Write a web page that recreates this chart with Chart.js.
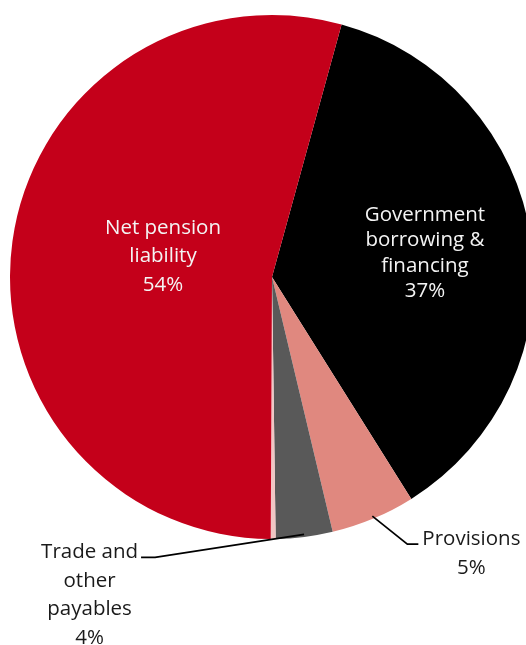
<!DOCTYPE html>
<html>
<head>
<meta charset="utf-8">
<script src="https://cdn.jsdelivr.net/npm/chart.js@4/dist/chart.umd.min.js"></script>
<style>
  html, body { margin: 0; padding: 0; background: #fff; }
  #wrap { width: 526px; height: 645px; overflow: hidden; }
  canvas { display: block; }
</style>
</head>
<body>
<div id="wrap"><canvas id="pie" width="560" height="645"></canvas></div>
<script>
// Liabilities breakdown, % of total (clockwise from the top)
var categories = ['Government borrowing & financing', 'Provisions', 'Trade and other payables', 'Other', 'Net pension liability'];
var labelLines = [['Government', 'borrowing &', 'financing'], ['Provisions'], ['Trade and', 'other', 'payables'], [], ['Net pension', 'liability']];
var shares = [36.8, 5.2, 3.5, 0.3, 54.2];
var colours = ['#000000', '#e0887f', '#595959', '#f2c6c4', '#c4001a'];

var FONT = '20.5px "Open Sans", "Noto Sans", sans-serif';

// how each slice gets its label: inside at a fraction of the radius, or outside with a leader
var labelPlace = [
  { kind: 'in', r: 0.59, gap: 25.5, shift: -1.5 },
  { kind: 'out', dx: 35, dy: 28, tail: 11, side: 'right', gap: 29 },
  { kind: 'out', dx: -149, dy: 23, tail: -14, side: 'left', gap: 28.5 },
  { kind: 'none' },
  { kind: 'in', r: 0.42, gap: 28.5, shift: -5.5 }
];

var sliceLabels = {
  id: 'sliceLabels',
  afterDatasetsDraw: function(chart) {
    var ctx = chart.ctx;
    var arcs = chart.getDatasetMeta(0).data;
    ctx.save();
    ctx.font = FONT;
    ctx.textBaseline = 'middle';
    ctx.textAlign = 'center';
    arcs.forEach(function(arc, i) {
      var p = labelPlace[i];
      if (p.kind === 'none') return;
      var lines = labelLines[i].concat([Math.round(shares[i]) + '%']);
      var mid = (arc.startAngle + arc.endAngle) / 2;
      if (p.kind === 'in') {
        var cx = arc.x + Math.cos(mid) * arc.outerRadius * p.r;
        var cy = arc.y + Math.sin(mid) * arc.outerRadius * p.r + p.shift;
        var top = cy - (lines.length - 1) * p.gap / 2;
        ctx.fillStyle = '#f4f4f4';
        lines.forEach(function(t, k) { ctx.fillText(t, cx, top + k * p.gap); });
        return;
      }
      // leader line from the slice edge
      var sx = arc.x + Math.cos(mid) * arc.outerRadius * 0.99;
      var sy = arc.y + Math.sin(mid) * arc.outerRadius * 0.99;
      var ex = sx + p.dx, ey = sy + p.dy;
      var tx = ex + p.tail;
      ctx.strokeStyle = '#000';
      ctx.lineWidth = 1.7;
      ctx.beginPath();
      ctx.moveTo(sx, sy);
      ctx.lineTo(ex, ey);
      ctx.lineTo(tx, ey);
      ctx.stroke();
      var w = 0;
      lines.forEach(function(t) { w = Math.max(w, ctx.measureText(t).width); });
      var lx = p.side === 'right' ? tx + 4 + w / 2 : tx - 3 - w / 2;
      ctx.fillStyle = '#1a1a1a';
      lines.forEach(function(t, k) { ctx.fillText(t, lx, ey - 5 + k * p.gap); });
    });
    ctx.restore();
  }
};

new Chart(document.getElementById('pie'), {
  type: 'pie',
  data: {
    labels: categories,
    datasets: [{
      data: shares,
      backgroundColor: colours,
      borderWidth: 0
    }]
  },
  options: {
    responsive: false,
    animation: false,
    rotation: 15.4,
    layout: { padding: { left: 10, right: 26, top: 14, bottom: 105 } },
    plugins: {
      legend: { display: false },
      tooltip: { enabled: false }
    }
  },
  plugins: [sliceLabels]
});
</script>
</body>
</html>
